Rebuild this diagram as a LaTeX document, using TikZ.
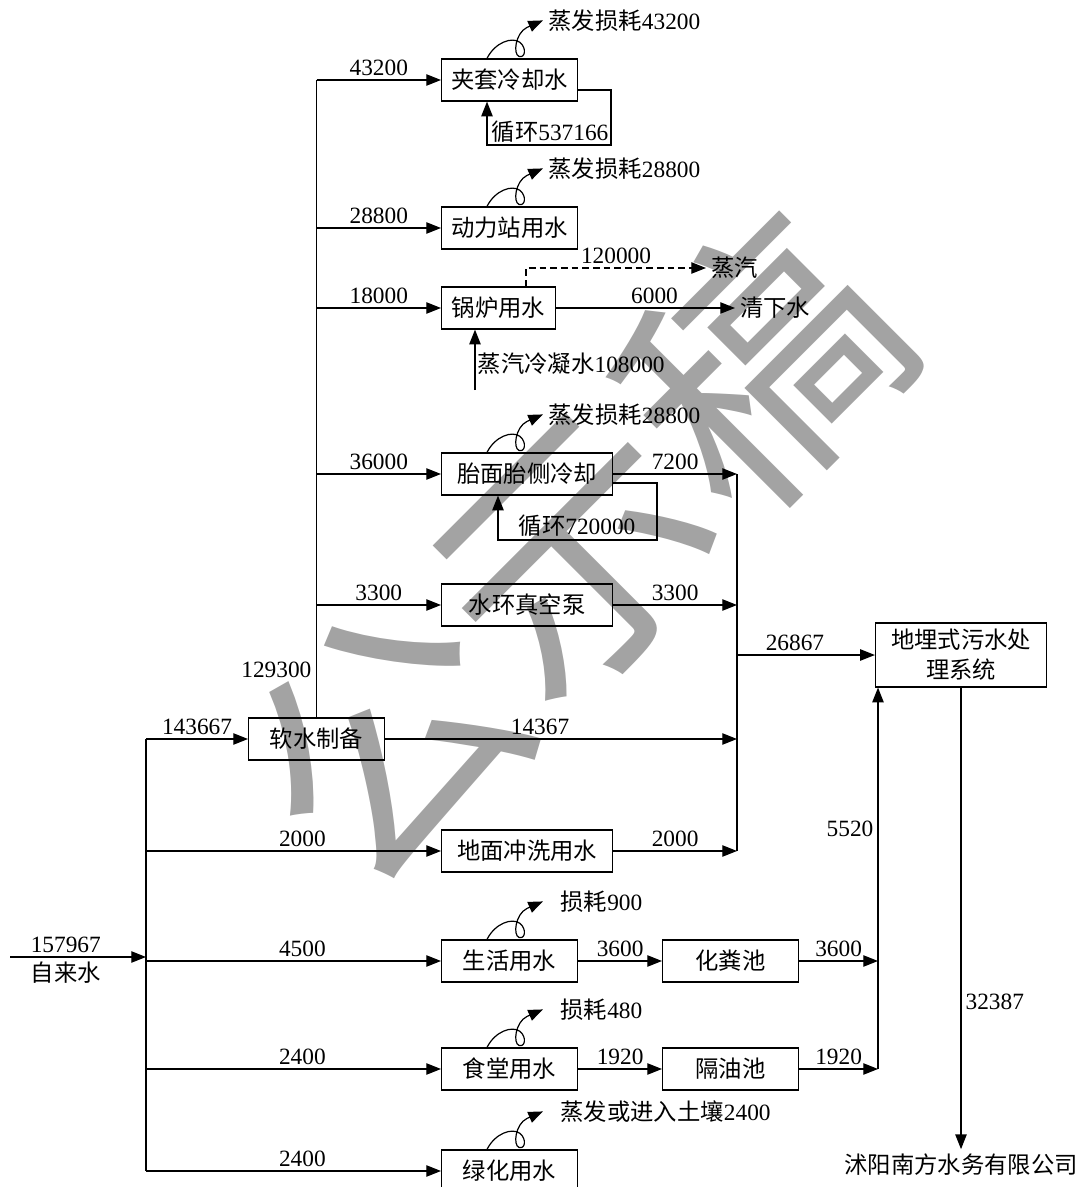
\documentclass[tikz,border=0pt]{standalone}
\usepackage{fontspec}
\setmainfont{Liberation Serif}
\newfontfamily\cjk{Noto Sans CJK SC}
\usetikzlibrary{arrows.meta,positioning,calc}
\definecolor{wmgray}{HTML}{A3A3A3}
\newcommand\zh[1]{{\cjk #1}}

\begin{document}
\begin{tikzpicture}[x=0.75pt, y=-0.75pt, line width=0.9pt,
    font=\fontsize{17.5}{22.5}\selectfont,
    box/.style={draw, minimum height=31.5pt, minimum width=102pt, inner sep=0pt, anchor=west},
    arr/.style={-{Triangle[length=11pt,width=8.5pt]}},
    lbl/.style={inner sep=3pt}]
    \useasboundingbox (0,0) rectangle (1084,1187);
    % watermark
    \node[rotate=45, text=wmgray, font=\cjk\fontsize{200}{200}\selectfont] (wm) at (572,552) {公示稿};

    \node[box] (jacket) at (441,80) {\zh{夹套冷却水}};
    \node[box] (power) at (441,228) {\zh{动力站用水}};
    \node[box, minimum width=85.5pt] (boiler) at (441,308) {\zh{锅炉用水}};
    \node[box, minimum width=128.25pt] (tyre) at (441,474) {\zh{胎面胎侧冷却}};
    \node[box, minimum width=128.25pt] (vacuum) at (441,605) {\zh{水环真空泵}};
    \node[box] (soft) at (248,739) {\zh{软水制备}};
    \node[box, minimum width=128.25pt] (floor) at (441,851) {\zh{地面冲洗用水}};
    \node[box] (life) at (441,961) {\zh{生活用水}};
    \node[box] (septic) at (662,961) {\zh{化粪池}};
    \node[box] (canteen) at (441,1069) {\zh{食堂用水}};
    \node[box] (oilsep) at (662,1069) {\zh{隔油池}};
    \node[box] (green) at (441,1171) {\zh{绿化用水}};
    \node[box, anchor=center, minimum width=128.25pt, minimum height=48pt, align=center] (wwtp) at (961,655)
        {\zh{地埋式污水处}\\\zh{理系统}};
    \node (town) at (961,1165) {\zh{沭阳南方水务有限公司}};

    \coordinate (in) at (10,957);
    \coordinate (src) at (146,957);
    \coordinate (col) at (737,655);
    \coordinate (join) at (878,1069);
    \coordinate (jloop) at (611,145);
    \coordinate (tloop) at (657,540);
    \coordinate (steam) at (706,268);
    \coordinate (clean) at (735,308);
    \coordinate (cond) at (475,390);

    % tap water
    \draw[arr] (in) -- node[above,lbl,pos=0.41] (q0) {157967} node[below,lbl,pos=0.41] (q0t) {\zh{自来水}} (src);
    \draw (soft.west -| src) -- (green.west -| src);
    \draw[arr] (soft.west -| src) -- node[above,lbl] (q1) {143667} (soft.west);
    \foreach \b/\v in {floor/2000, life/4500, canteen/2400, green/2400}
        \draw[arr] (\b.west -| src) -- node[above,lbl,pos=0.53] (q\b) {\v} (\b.west);

    % soft water
    \draw (soft.north) -- (soft.north |- jacket.west);
    \node[anchor=east,lbl] (q2) at (316,670) {129300};
    \foreach \b/\v in {jacket/43200, power/28800, boiler/18000, tyre/36000, vacuum/3300}
        \draw[arr] (soft.north |- \b.west) -- node[above,lbl] (s\b) {\v} (\b.west);

    % evaporation
    \foreach \b/\t/\dx in {jacket/{\zh{蒸发损耗}43200}/103, power/{\zh{蒸发损耗}28800}/103,
                           tyre/{\zh{蒸发损耗}28800}/103, life/{\zh{损耗}900}/115,
                           canteen/{\zh{损耗}480}/115, green/{\zh{蒸发或进入土壤}2400}/115} {
        \begin{scope}[shift={(\b.north west)}]
            \draw[arr] (46,0) .. controls (54,-16) and (71,-22) .. (79,-16)
                .. controls (86,-10) and (84,0) .. (78,-2)
                .. controls (72,-4) and (74,-25) .. (86,-31) -- (102,-38);
            \node[anchor=west,lbl] (e\b) at (\dx,-38) {\t};
        \end{scope}
    }

    % recirculation
    \draw[arr] ([yshift=-7.5pt]jacket.east) -| (jloop) -| ([xshift=34.5pt]jacket.south west);
    \node (r1) at (550,132) {\zh{循环}537166};
    \draw[arr] ([yshift=-6.75pt]tyre.east) -| (tloop) -| ([xshift=42.75pt]tyre.south west);
    \node (r2) at (577,526) {\zh{循环}720000};

    % boiler
    \draw[arr, dash pattern=on 5pt off 3pt] ([xshift=63.75pt]boiler.north west)
        |- node[above,lbl,pos=0.75] (b1) {120000} (steam);
    \node[right] (b1t) at (steam) {\zh{蒸汽}};
    \draw[arr] (boiler.east) -- node[above,lbl,pos=0.55] (b2) {6000} (clean);
    \node[right] (b2t) at (clean) {\zh{清下水}};
    \draw[arr] (cond) -- (cond |- boiler.south);
    \node[anchor=west,inner sep=1pt] (b3) at (476,364) {\zh{蒸汽冷凝水}108000};

    % collector
    \draw (tyre.east -| col) -- (floor.east -| col);
    \draw[arr] (tyre.east) -- node[above,lbl] (c1) {7200} (tyre.east -| col);
    \draw[arr] (vacuum.east) -- node[above,lbl] (c2) {3300} (vacuum.east -| col);
    \draw[arr] (soft.east) -- node[above,lbl,pos=0.44] (c3) {14367} (soft.east -| col);
    \draw[arr] (floor.east) -- node[above,lbl] (c4) {2000} (floor.east -| col);
    \draw[arr] (col) -- node[above,lbl,pos=0.42] (c5) {26867} (wwtp.west);

    % domestic
    \draw[arr] (life.east) -- node[above,lbl] (d1) {3600} (septic.west);
    \draw[arr] (canteen.east) -- node[above,lbl] (d2) {1920} (oilsep.west);
    \draw[arr] (septic.east) -- node[above,lbl] (d3) {3600} (septic.east -| join);
    \draw[arr] (oilsep.east) -- node[above,lbl] (d4) {1920} (join);
    \draw[arr] (join) -- node[left,lbl,pos=0.63] (d5) {5520} (join |- wwtp.south);
    \draw[arr] (wwtp.south) -- node[right,lbl,pos=0.68] (d6) {32387} (town.north);
\end{tikzpicture}
\end{document}
